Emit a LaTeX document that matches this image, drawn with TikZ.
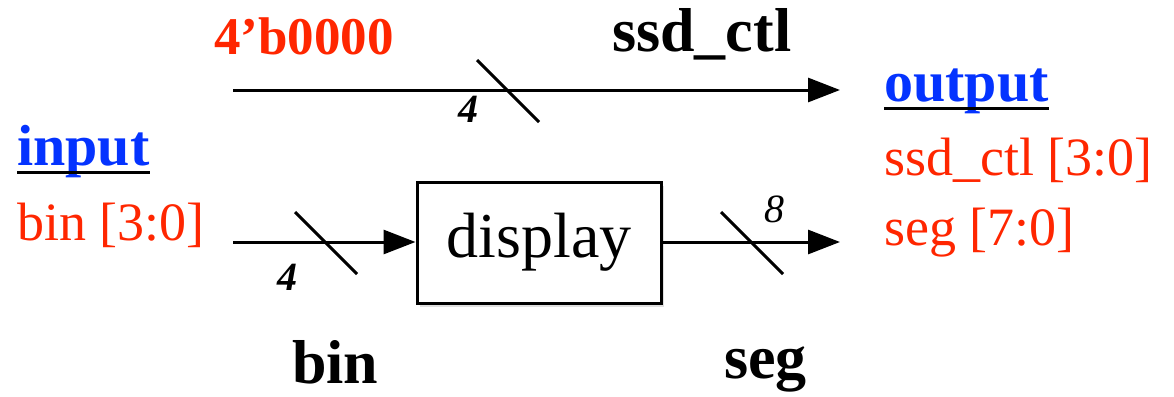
\documentclass[tikz,border=0pt]{standalone}
\usepackage{fontspec}
\setmainfont{Liberation Serif}
\usetikzlibrary{arrows.meta,calc,shadows}
\definecolor{sigred}{RGB}{255,38,0}
\definecolor{hdblue}{RGB}{4,51,255}
\tikzset{
  wire/.style={line width=3pt, -{Triangle[length=32pt,width=24pt]}},
  plain/.style={line width=3pt},
  lbl/.style={inner sep=0pt, anchor=base west},
  redtxt/.style={lbl, text=sigred, font=\fontsize{54}{60}\selectfont},
  redbold/.style={lbl, text=sigred, font=\fontsize{53}{60}\selectfont\bfseries},
  blktxt/.style={lbl, font=\fontsize{62}{66}\selectfont\bfseries},
  head/.style={lbl, text=hdblue, font=\fontsize{58}{66}\selectfont\bfseries},
  width/.style={lbl, font=\fontsize{40}{44}\selectfont\bfseries\itshape},
  boxst/.style={draw, fill=white, line width=3pt, minimum width=244pt, minimum height=121pt, inner sep=0pt, font=\fontsize{64}{70}\selectfont,
    drop shadow={opacity=0.25, shadow xshift=3pt, shadow yshift=-4pt}}
}
\begin{document}
\begin{tikzpicture}[x=1pt,y=-1pt]
\useasboundingbox (0,0) rectangle (1174,396);
% top wire
\node[redbold] (k) at (214,55) {4’b0000};
\node[blktxt] (ctl) at (612,52) {ssd\_ctl};
\coordinate (t0) at (233,90);
\coordinate (t1) at (840,90);
\draw[wire] (t0) -- (t1);
\coordinate (tm) at (508,91);
\draw[plain] ($(tm)+(-31,-31)$) -- ($(tm)+(31,31)$);
\node[width] (w1) at (458,122) {4};
% inputs
\node[head] (inp) at (17,165) {input};
\draw[plain] ([yshift=-7pt]inp.base west) -- ([yshift=-7pt]inp.base east);
\node[redtxt] (bin) at (17,240) {bin [3:0]};
% box
\node[boxst] (disp) at (539,242.5) {display};
\coordinate (b0) at (233,242);
\draw[wire] (b0) -- (disp.west |- b0);
\coordinate (bm) at (326,243);
\draw[plain] ($(bm)+(-31,-31)$) -- ($(bm)+(31,31)$);
\node[width] (w2) at (277,290) {4};
\coordinate (s1) at (840,242);
\draw[wire] (disp.east |- s1) -- (s1);
\coordinate (sm) at (752,243);
\draw[plain] ($(sm)+(-31,-31)$) -- ($(sm)+(31,31)$);
\node[lbl, font=\fontsize{40}{44}\selectfont\itshape] (w3) at (764,222) {8};
% outputs
\node[head] (outp) at (884,101) {output};
\draw[plain] ([yshift=-7pt]outp.base west) -- ([yshift=-7pt]outp.base east);
\node[redtxt] (octl) at (884,175) {ssd\_ctl [3:0]};
\node[redtxt] (oseg) at (884,245) {seg [7:0]};
% bottom labels
\node[blktxt] (lbin) at (292,383) {bin};
\node[blktxt] (lseg) at (724,378) {seg};
\end{tikzpicture}
\end{document}
